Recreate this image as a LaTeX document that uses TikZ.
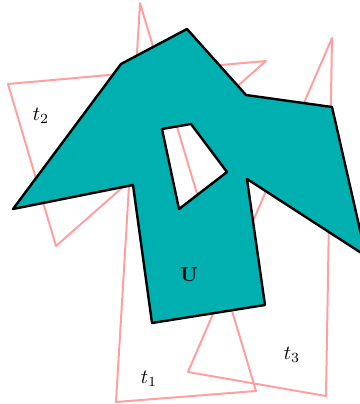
\documentclass[tikz,border=0pt]{standalone}
\usepackage{tikz}
\usetikzlibrary{calc}
\usepackage{amsmath, amssymb}
\definecolor{setteal}{RGB}{0, 176, 176}
\definecolor{simpink}{RGB}{255, 160, 160}

\begin{document}
\begin{tikzpicture}[
  x=0.5pt, y=-0.5pt,
  simplex/.style={draw=simpink, line width=1pt, line join=round},
  region/.style={draw=black, line width=1.2pt, line join=round, fill=setteal, even odd rule}
]
  \useasboundingbox (0,0) rectangle (360,404);
  \clip (0,0) rectangle (360,404);
  % simplices
  \draw[simplex] (8,84) -- (266,61) -- (56,246) -- cycle;
  \draw[simplex] (332,38) -- (188,372) -- (326,396) -- cycle;
  \fill[white] (162,129) -- (191,124) -- (227,172) -- (179,209) -- cycle;
  \draw[simplex] (140,3) -- (116,402) -- (256,391) -- cycle;
  % the open set, with its hole
  \draw[region] (121,64) -- (187,29) -- (246,95) -- (332,107) -- (366,256)
    -- (247,179) -- (265,305) -- (152,323) -- (133,185) -- (13,209) -- cycle
    (162,129) -- (191,124) -- (227,172) -- (179,209) -- cycle;
  \node (setU) at (189,275) {$\mathbf{U}$};
  \node (tone) at (149,379) {$t_1$};
  \node (ttwo) at (41,116) {$t_2$};
  \node (tthree) at (292,355) {$t_3$};
\end{tikzpicture}
\end{document}
